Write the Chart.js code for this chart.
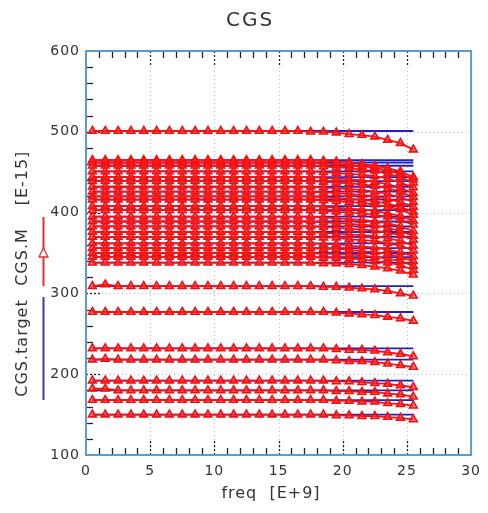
<!DOCTYPE html>
<html>
<head>
<meta charset="utf-8">
<script src="https://cdn.jsdelivr.net/npm/chart.js@4/dist/chart.umd.min.js"></script>
<style>
  html, body { margin: 0; padding: 0; background: #fff; }
  canvas { display: block; }
</style>
</head>
<body>
<canvas id="chart" width="488" height="513"></canvas>
<script>
// frequency points of the measured curves [E+9]
const freq = [0.5, 1.5, 2.5, 3.5, 4.5, 5.5, 6.5, 7.5, 8.5, 9.5, 10.5, 11.5, 12.5,
  13.5, 14.5, 15.5, 16.5, 17.5, 18.5, 19.5, 20.5, 21.5, 22.5, 23.5, 24.5, 25.5];

// CGS.target levels [E-15]
const cgsTarget = [501, 465, 462, 458, 451, 444, 439, 432, 426, 420, 416, 408, 403, 395,
  389, 383, 376, 370, 362, 356, 350, 345, 338, 309, 277, 232, 218, 192, 180, 168, 150];

// CGS.M, one row per curve
const cgsMeasured = [
  [501,501,501,501,501,501,501,501,501,501,501,501,501,501,501,501,501,500,500,499,497,496,494,490,486,478],
  [465,465,465,465,465,465,465,465,465,465,465,465,465,465,465,465,465,465,464,463,462,460,458,455,451,444],
  [462,462,462,462,462,462,462,462,462,462,462,462,462,462,462,462,462,462,461,460,459,457,456,452,448,441],
  [458,458,458,458,458,458,458,458,458,458,458,458,458,458,458,458,458,458,457,456,455,453,452,448,444,437],
  [451,451,451,451,451,451,451,451,451,451,451,451,451,451,451,451,451,451,450,449,448,447,445,442,437,431],
  [444,444,444,444,444,444,444,444,444,444,444,444,444,444,444,444,444,444,443,442,441,440,438,435,431,424],
  [439,439,439,439,439,439,439,439,439,439,439,439,439,439,439,439,439,439,438,437,436,435,433,430,426,419],
  [432,432,432,432,432,432,432,432,432,432,432,432,432,432,432,432,432,432,431,430,429,428,426,423,419,413],
  [426,426,426,426,426,426,426,426,426,426,426,426,426,426,426,426,426,426,425,424,423,422,420,417,413,407],
  [420,420,420,420,420,420,420,420,420,420,420,420,420,420,420,420,420,420,419,418,417,416,414,411,407,401],
  [416,416,416,416,416,416,416,416,416,416,416,416,416,416,416,416,416,416,415,414,413,412,410,407,404,397],
  [408,408,408,408,408,408,408,408,408,408,408,408,408,408,408,408,408,408,407,406,405,404,402,399,396,390],
  [403,403,403,403,403,403,403,403,403,403,403,403,403,403,403,403,403,403,402,401,400,399,397,395,391,385],
  [395,395,395,395,395,395,395,395,395,395,395,395,395,395,395,395,395,395,394,393,392,391,389,387,383,377],
  [389,389,389,389,389,389,389,389,389,389,389,389,389,389,389,389,389,389,388,387,386,385,384,381,377,371],
  [383,383,383,383,383,383,383,383,383,383,383,383,383,383,383,383,383,383,382,381,380,379,378,375,372,366],
  [376,376,376,376,376,376,376,376,376,376,376,376,376,376,376,376,376,376,375,374,373,372,371,368,365,359],
  [370,370,370,370,370,370,370,370,370,370,370,370,370,370,370,370,370,370,369,369,367,366,365,362,359,353],
  [362,362,362,362,362,362,362,362,362,362,362,362,362,362,362,362,362,362,361,361,359,358,357,354,351,346],
  [356,356,356,356,356,356,356,356,356,356,356,356,356,356,356,356,356,356,355,355,354,352,351,349,345,340],
  [350,350,350,350,350,350,350,350,350,350,350,350,350,350,350,350,350,350,349,349,348,347,345,343,340,334],
  [345,345,345,345,345,345,345,345,345,345,345,345,345,345,345,345,345,345,344,344,343,342,340,338,335,329],
  [338,338,338,338,338,338,338,338,338,338,338,338,338,338,338,338,338,338,337,337,336,335,333,331,328,323],
  [309,311,309,309,309,309,309,309,309,309,309,309,309,309,309,309,309,309,308,308,307,306,305,303,300,297],
  [277,277,277,277,277,277,277,277,277,277,277,277,277,277,277,277,277,277,277,276,275,274,273,271,269,266],
  [232,232,232,232,232,232,232,232,232,232,232,232,232,232,232,232,232,232,232,231,230,230,229,227,225,222],
  [218,219,218,218,218,218,218,218,218,218,218,218,218,218,218,218,218,218,218,217,216,216,215,213,211,209],
  [192,192,192,192,192,192,192,192,192,192,192,192,192,192,192,192,192,192,192,191,191,190,189,188,186,184],
  [182,182,180,180,180,180,180,180,180,180,180,180,180,180,180,180,180,180,180,179,179,178,178,176,175,172],
  [168,168,168,168,168,168,168,168,168,168,168,168,168,168,168,168,168,168,168,167,167,166,166,164,163,161],
  [150,150,150,150,150,150,150,150,150,150,150,150,150,150,150,150,150,150,150,149,149,148,148,147,146,144]
];

const xTicks = [0, 5, 10, 15, 20, 25, 30];
const yTicks = [100, 200, 300, 400, 500, 600];

const FONT = 'DejaVu Sans';
const TEXT = '#333';

const datasets = [];
cgsMeasured.forEach(row => {
    datasets.push({
        label: 'CGS.M',
        data: row.map((v, i) => ({ x: freq[i], y: v })),
        showLine: true,
        borderColor: '#ff1010',
        borderWidth: 1.8,
        pointStyle: 'triangle',
        pointRadius: 4.5,
        pointBorderColor: '#f01010',
        pointBackgroundColor: 'rgba(255,40,40,0.55)',
        pointBorderWidth: 1.6,
        order: 0
    });
});
cgsTarget.forEach(v => {
    datasets.push({
        label: 'CGS.target',
        data: [{ x: freq[0], y: v }, { x: freq[freq.length - 1], y: v }],
        showLine: true,
        borderColor: '#2020c8',
        borderWidth: 1.8,
        pointRadius: 0,
        order: 1
    });
});

// frame, dotted grid and inward tick marks
const framePlugin = {
    id: 'frame',
    beforeDraw(chart) {
        chart.ctx.letterSpacing = '1px';
    },
    beforeDatasetsDraw(chart) {
        const { ctx, chartArea: a, scales: { x, y } } = chart;
        ctx.save();
        ctx.letterSpacing = '0px';
        // dotted grid
        ctx.strokeStyle = '#9cc3e4';
        ctx.lineWidth = 1;
        ctx.setLineDash([1, 3]);
        xTicks.slice(1, -1).forEach(t => {
            const px = Math.round(x.getPixelForValue(t)) + 0.5;
            ctx.beginPath(); ctx.moveTo(px, a.top); ctx.lineTo(px, a.bottom); ctx.stroke();
        });
        yTicks.slice(1, -1).forEach(t => {
            const py = Math.round(y.getPixelForValue(t)) + 0.5;
            ctx.beginPath(); ctx.moveTo(a.left, py); ctx.lineTo(a.right, py); ctx.stroke();
        });
        // tick marks
        ctx.strokeStyle = '#222';
        ctx.lineWidth = 1.3;
        for (let t = 1; t < 30; t++) {
            const major = t % 5 === 0;
            const len = major ? 16 : 7;
            ctx.setLineDash(major ? [2, 2] : []);
            const px = Math.round(x.getPixelForValue(t)) + 0.5;
            ctx.beginPath(); ctx.moveTo(px, a.top); ctx.lineTo(px, a.top + len); ctx.stroke();
            ctx.beginPath(); ctx.moveTo(px, a.bottom); ctx.lineTo(px, a.bottom - len); ctx.stroke();
        }
        for (let t = 120; t < 600; t += 20) {
            const major = t % 100 === 0;
            const len = major ? 14 : 7;
            ctx.setLineDash(major ? [2, 2] : []);
            const py = Math.round(y.getPixelForValue(t)) + 0.5;
            ctx.beginPath(); ctx.moveTo(a.left, py); ctx.lineTo(a.left + len, py); ctx.stroke();
        }
        ctx.restore();
    },
    afterDatasetsDraw(chart) {
        const { ctx, chartArea: a } = chart;
        ctx.save();
        ctx.strokeStyle = '#5b9bd5';
        ctx.lineWidth = 2;
        ctx.strokeRect(a.left, a.top, a.right - a.left, a.bottom - a.top);
        ctx.restore();
    },
    afterDraw(chart) {
        const ctx = chart.ctx;
        ctx.save();
        ctx.fillStyle = TEXT;
        ctx.textAlign = 'center';
        ctx.textBaseline = 'middle';

        ctx.letterSpacing = '2px';
        ctx.font = `20px "${FONT}"`;
        ctx.fillText('CGS', 250, 21);

        ctx.letterSpacing = '1px';
        ctx.font = `16px "${FONT}"`;
        ctx.fillText('freq  [E+9]', 271, 494);

        // rotated y title with legend marks
        [['CGS.target', 348], ['CGS.M', 257], ['[E-15]', 178]].forEach(([txt, cy]) => {
            ctx.save();
            ctx.translate(23, cy);
            ctx.rotate(-Math.PI / 2);
            ctx.fillText(txt, 0, 0);
            ctx.restore();
        });

        ctx.lineWidth = 2;
        ctx.strokeStyle = '#3a3aa8';
        ctx.beginPath(); ctx.moveTo(43.5, 297); ctx.lineTo(43.5, 400); ctx.stroke();
        ctx.strokeStyle = '#e03030';
        ctx.beginPath(); ctx.moveTo(43.5, 217); ctx.lineTo(43.5, 286); ctx.stroke();
        ctx.lineWidth = 1.3;
        ctx.fillStyle = '#fff';
        ctx.beginPath();
        ctx.moveTo(43.5, 248); ctx.lineTo(39, 257); ctx.lineTo(48, 257); ctx.closePath();
        ctx.fill(); ctx.stroke();
        ctx.restore();
    }
};

new Chart(document.getElementById('chart'), {
    type: 'scatter',
    data: { datasets: datasets },
    options: {
        responsive: false,
        animation: false,
        devicePixelRatio: 1,
        layout: { padding: { top: 51, right: 11, left: 0, bottom: 0 } },
        plugins: {
            legend: { display: false },
            title: { display: false },
            tooltip: { enabled: false }
        },
        scales: {
            x: {
                type: 'linear',
                min: 0, max: 30,
                afterFit: s => { s.height = 58; },
                afterBuildTicks: s => { s.ticks = xTicks.map(v => ({ value: v })); },
                grid: { display: false, drawTicks: false },
                border: { display: false },
                ticks: { color: TEXT, padding: 8, maxRotation: 0, font: { family: FONT, size: 14 } }
            },
            y: {
                type: 'linear',
                min: 100, max: 600,
                afterFit: s => { s.width = 86; },
                afterBuildTicks: s => { s.ticks = yTicks.map(v => ({ value: v })); },
                grid: { display: false, drawTicks: false },
                border: { display: false },
                ticks: { color: TEXT, padding: 6, font: { family: FONT, size: 14 } }
            }
        }
    },
    plugins: [framePlugin]
});
</script>
</body>
</html>
